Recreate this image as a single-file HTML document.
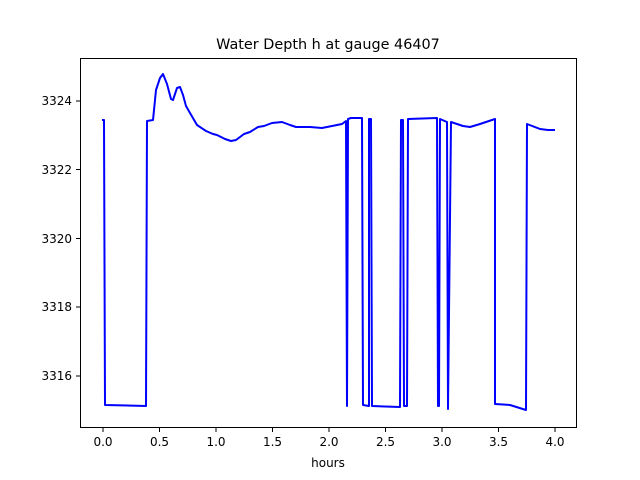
<!DOCTYPE html>
<html><head><meta charset="utf-8"><style>body{margin:0;background:#fff}svg{display:block}text{font-family:"DejaVu Sans",sans-serif;font-size:12px;fill:#000}</style></head>
<body>
<svg width="640" height="480" viewBox="0 0 640 480" xmlns="http://www.w3.org/2000/svg">
<rect width="640" height="480" fill="#fff"/>
<text x="328" y="49" text-anchor="middle" style="font-size:14.4px">Water Depth h at gauge 46407</text>
<path fill="none" stroke="#0000ff" stroke-width="2" stroke-linejoin="round" d="M102,120 L104,120 L105,405 L146,406 L147,121 L153,120 L156,90 L160,78 L163,74 L167,84 L171,99 L173,100 L177,88 L180,87 L183,95 L186,106 L190,113 L197,125 L206,131 L213,134 L217,135 L225,139 L231,141 L236,140 L244,134 L250,132 L258,127 L264,126 L272,123 L282,122 L290,125 L296,127 L310,127 L322,128 L332,126 L342,124 L346,121 L347,406 L348,119 L351,118 L362,118 L363,405 L369,406 L369,119 L371,119 L372,406 L400,407 L401,120 L403,120 L404,406 L407,406 L408,119 L437,118 L438,406 L439,406 L440,119 L447,122 L448,409 L451,122 L463,126 L470,127 L480,124 L495,119 L495,404 L510,405 L526,410 L527,124 L540,129 L548,130 L555,130"/>
<rect x="80.5" y="58.5" width="496" height="369" fill="none" stroke="#000" stroke-width="1"/>
<g stroke="#000" stroke-width="1">
<line x1="103" y1="428" x2="103" y2="432"/><line x1="159.5" y1="428" x2="159.5" y2="432"/><line x1="216" y1="428" x2="216" y2="432"/><line x1="272.5" y1="428" x2="272.5" y2="432"/><line x1="329" y1="428" x2="329" y2="432"/><line x1="385.5" y1="428" x2="385.5" y2="432"/><line x1="442" y1="428" x2="442" y2="432"/><line x1="498.5" y1="428" x2="498.5" y2="432"/><line x1="555" y1="428" x2="555" y2="432"/>
<line x1="76" y1="101" x2="80" y2="101"/><line x1="76" y1="169.5" x2="80" y2="169.5"/><line x1="76" y1="238.5" x2="80" y2="238.5"/><line x1="76" y1="307" x2="80" y2="307"/><line x1="76" y1="376" x2="80" y2="376"/>
</g>
<g text-anchor="middle">
<text x="103" y="446">0.0</text><text x="159.5" y="446">0.5</text><text x="216" y="446">1.0</text><text x="272.5" y="446">1.5</text><text x="329" y="446">2.0</text><text x="385.5" y="446">2.5</text><text x="442" y="446">3.0</text><text x="498.5" y="446">3.5</text><text x="555" y="446">4.0</text>
<text x="328" y="467">hours</text>
</g>
<g text-anchor="end">
<text x="72" y="105">3324</text><text x="72" y="174">3322</text><text x="72" y="243">3320</text><text x="72" y="311">3318</text><text x="72" y="380">3316</text>
</g>
</svg>
</body></html>
